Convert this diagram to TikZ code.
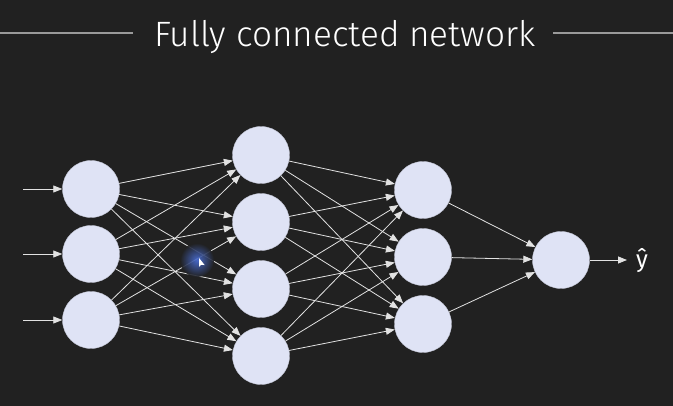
\documentclass[tikz,border=0pt]{standalone}
\usepackage{fontspec}
\setmainfont{Fira Sans}
\newfontfamily\titlefont{Fira Sans Light}
\usetikzlibrary{arrows.meta}
\definecolor{bg}{HTML}{212121}
\definecolor{nodefill}{HTML}{DFE3F5}
\definecolor{edgecol}{HTML}{E2E2E2}
\definecolor{rulecol}{HTML}{9A9A9A}
\definecolor{glow}{HTML}{4A6FD8}
\tikzset{
  neuron/.style={circle, fill=nodefill, draw=nodefill!85!black, line width=0.4pt, minimum size=57pt, inner sep=0pt},
  conn/.style={draw=edgecol, line width=0.8pt, -{Triangle[length=9pt,width=7pt,fill=edgecol]}},
}
\begin{document}
\begin{tikzpicture}[x=1pt,y=-1pt]
\fill[bg] (0,0) rectangle (673,406);
\useasboundingbox (0,0) rectangle (673,406);
% title
\node[text=white, font=\titlefont\fontsize{35.2}{42}\selectfont, inner sep=0pt, anchor=base] (title) at (345,47) {Fully connected network};
\coordinate (tl0) at (0,33);
\coordinate (tl1) at (133,33);
\coordinate (tr0) at (553,33);
\coordinate (tr1) at (673,33);
\draw[rulecol, line width=1.2pt] (tl0) -- (tl1);
\draw[rulecol, line width=1.2pt] (tr0) -- (tr1);
% neurons
\node[neuron] (i1) at (91,189) {};
\node[neuron] (i2) at (91,254) {};
\node[neuron] (i3) at (91,320) {};
\node[neuron] (h1) at (261,155) {};
\node[neuron] (h2) at (261,222) {};
\node[neuron] (h3) at (261,289) {};
\node[neuron] (h4) at (261,356) {};
\node[neuron] (g1) at (423,190) {};
\node[neuron] (g2) at (423,257) {};
\node[neuron] (g3) at (423,324) {};
\node[neuron] (o) at (561,260) {};
% inputs
\foreach \i/\y in {1/189,2/254,3/320} {
  \coordinate (in\i) at (23,\y);
  \draw[conn] (in\i) -- (i\i);
}
% connections
\foreach \a in {i1,i2,i3} \foreach \b in {h1,h2,h3,h4} \draw[conn] (\a) -- (\b);
\foreach \a in {h1,h2,h3,h4} \foreach \b in {g1,g2,g3} \draw[conn] (\a) -- (\b);
\foreach \a in {g1,g2,g3} \draw[conn] (\a) -- (o);
% output
\node[text=white, font=\fontsize{24}{28}\selectfont, inner sep=0pt] (yhat) at (642,261) {ŷ};
\coordinate (oend) at (627,260);
\draw[conn] (o) -- (oend);
% cursor glow
\shade[inner color=glow, outer color=bg, opacity=0.9] (197,260) circle (17);
\coordinate (cur) at (199,258);
\fill[white] (cur) -- ++(0,9) -- ++(2.2,-2.2) -- ++(3.5,0.3) -- cycle;
\end{tikzpicture}
\end{document}
